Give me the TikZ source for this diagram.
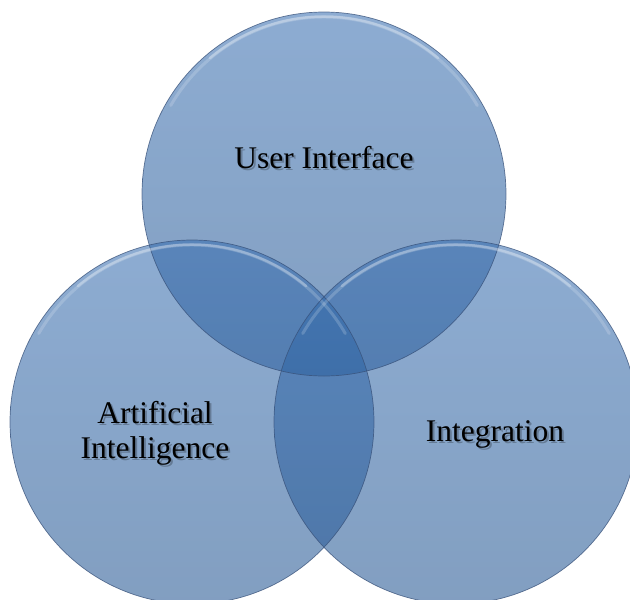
\documentclass[tikz,border=0pt]{standalone}
\usepackage{fontspec}
\setmainfont{Liberation Serif}
\definecolor{vtop}{RGB}{56,110,176}
\definecolor{vbot}{RGB}{36,86,146}
\definecolor{vedge}{RGB}{55,80,120}
\begin{document}
\begin{tikzpicture}[x=1pt,y=-1pt,
  venn/.style={circle, minimum size=364pt, inner sep=0pt, top color=vtop, bottom color=vbot, fill opacity=0.573},
  rimline/.style={draw=vedge, line width=0.7pt, draw opacity=0.75},
  glint/.style={draw=white, line cap=round},
  lbl/.style={font=\fontsize{31.5}{35}\selectfont, align=center, text=black},
  lblshadow/.style={font=\fontsize{31.5}{35}\selectfont, align=center, text=black, text opacity=0.25}]
\useasboundingbox (0,0) rectangle (630,600);
% circles
\node[venn] (ui) at (324,194) {};
\node[venn] (ai) at (192,422) {};
\node[venn] (ig) at (456,422) {};
% outlines and top highlights
\foreach \c in {ui,ai,ig}{
  \draw[rimline] (\c.center) circle (182);
  \draw[glint, line width=3pt, draw opacity=0.18] (\c.center) ++(-30:177) arc (-30:-150:177);
  \draw[glint, line width=2.5pt, draw opacity=0.25] (\c.center) ++(-50:177.5) arc (-50:-130:177.5);
}
% label shadows
\node[lblshadow] (uis) at (326,160) {User Interface};
\node[lblshadow] (ais) at (157,435) {Artificial\\Intelligence};
\node[lblshadow] (igs) at (497,436) {Integration};
% labels
\node[lbl] (uit) at (324,158) {User Interface};
\node[lbl] (ait) at (155,433) {Artificial\\Intelligence};
\node[lbl] (igt) at (495,434) {Integration};
\end{tikzpicture}
\end{document}
